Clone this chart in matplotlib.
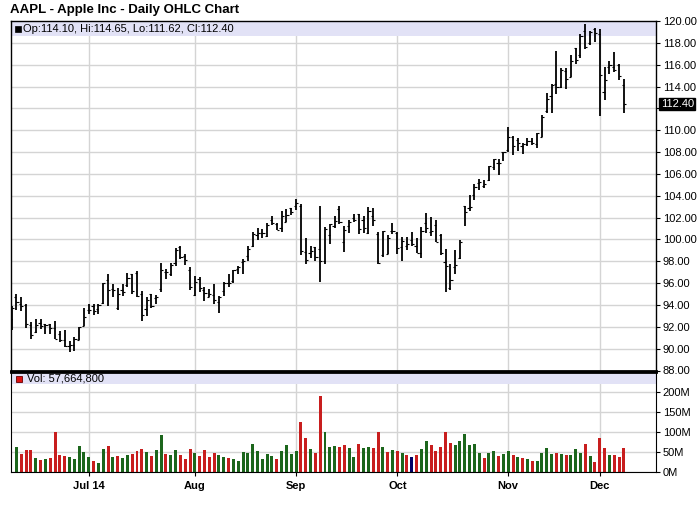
import numpy as np
import pandas as pd
import matplotlib
matplotlib.use('Agg')
from matplotlib import pyplot as plt
from matplotlib.patches import Rectangle
from matplotlib.transforms import blended_transform_factory

# trading days 2014-06-09 .. 2014-12-08
holidays = ['2014-07-04', '2014-09-01', '2014-11-27']
dates = [d for d in pd.bdate_range('2014-06-09', '2014-12-08') if d.strftime('%Y-%m-%d') not in holidays]

opens = [92.70, 94.73, 94.13, 94.04, 92.20, 91.51, 92.31, 92.27, 92.29, 91.85, 91.32, 90.75, 90.21, 90.37, 90.82, 92.10,
         93.52, 93.87, 93.67, 94.14, 96.27, 95.44, 93.76, 95.36, 95.86, 96.80, 96.97, 95.03, 93.62, 94.99, 94.68, 95.42,
         97.04, 96.85, 97.82, 99.33, 98.44, 97.16,
         94.90, 96.37, 95.36, 94.75, 94.93, 94.26, 95.27, 96.04, 96.15, 97.33, 97.90, 98.49, 99.41, 100.44, 100.57, 100.29,
         101.79, 101.42, 101.02, 101.59, 102.86,
         103.06, 103.10, 98.85, 98.80, 99.30, 99.08, 98.01, 100.41, 101.21, 102.81, 99.80, 101.27, 101.93, 102.29, 101.80,
         100.60, 102.16, 100.51, 98.53, 98.65, 100.81,
         100.59, 99.27, 99.44, 99.95, 99.43, 98.76, 101.54, 100.69, 101.33, 100.39, 97.97, 95.55, 97.50, 98.32, 103.02,
         102.84, 104.08, 105.18, 104.85, 105.40, 106.65, 106.96, 108.01,
         108.22, 109.36, 109.10, 108.60, 108.75, 109.02, 108.70, 109.38, 111.80, 113.15, 114.27, 113.94, 115.44, 114.91,
         117.51, 116.85, 119.07, 117.94, 119.27,
         118.81, 113.50, 115.75, 115.77, 115.99, 114.10]
highs = [93.88, 95.05, 94.76, 94.12, 92.44, 92.75, 92.70, 92.29, 92.30, 92.55, 91.62, 91.74, 90.70, 91.05, 92.00, 93.73,
         94.07, 94.06, 94.10, 95.99, 96.80, 95.95, 95.55, 95.89, 96.89, 96.85, 97.10, 95.28, 94.74, 95.00, 94.89, 97.88,
         97.32, 97.84, 99.24, 99.44, 98.70, 97.45,
         96.62, 96.58, 95.68, 95.48, 95.95, 94.82, 96.08, 96.88, 97.24, 97.57, 98.19, 99.37, 100.68, 101.09, 100.94, 101.47,
         102.17, 101.50, 102.57, 102.78, 102.90,
         103.74, 103.20, 100.09, 99.39, 99.31, 103.08, 101.11, 101.44, 102.19, 103.05, 101.26, 101.80, 102.35, 102.35,
         102.14, 102.94, 102.85, 100.71, 100.75, 100.44, 101.54,
         100.69, 100.22, 100.21, 100.65, 100.12, 101.11, 102.38, 102.03, 101.78, 100.52, 99.15, 97.72, 99.00, 99.96,
         103.02, 104.11, 105.05, 105.49, 105.48, 106.74, 107.37, 107.35, 108.04,
         110.30, 109.49, 109.30, 108.79, 109.32, 109.33, 109.75, 111.43, 113.45, 114.19, 117.28, 115.69, 115.74, 116.86,
         117.57, 118.77, 119.75, 119.10, 119.40,
         119.25, 115.75, 116.35, 117.20, 116.08, 114.65]
lows = [91.75, 93.57, 93.47, 91.90, 90.88, 91.45, 91.80, 91.35, 91.34, 90.90, 90.60, 90.19, 89.65, 89.80, 90.77, 92.09,
        93.13, 93.09, 93.20, 94.10, 93.92, 94.76, 93.52, 94.86, 95.65, 95.03, 94.74, 92.57, 93.02, 93.72, 94.12, 95.17,
        96.42, 96.64, 97.55, 98.25, 97.67, 95.33,
        94.81, 95.17, 94.36, 94.71, 94.10, 93.28, 94.84, 95.61, 96.04, 96.80, 96.86, 97.98, 99.32, 99.95, 100.11, 100.19,
        101.28, 100.86, 100.70, 101.56, 102.20,
        102.72, 98.58, 97.79, 98.31, 98.05, 96.14, 97.76, 99.62, 101.08, 101.44, 98.89, 100.59, 101.56, 100.50, 100.58,
        100.54, 101.20, 97.72, 98.40, 98.63, 100.53,
        98.70, 98.04, 99.04, 99.42, 98.73, 98.31, 100.61, 100.30, 99.81, 98.57, 95.18, 95.41, 96.81, 98.22, 101.27,
        102.60, 103.63, 104.53, 104.70, 105.35, 106.36, 105.90, 107.21,
        108.01, 107.72, 108.12, 107.80, 108.55, 108.67, 108.40, 109.37, 111.60, 111.56, 113.30, 113.89, 113.80, 114.85,
        116.03, 116.62, 117.45, 117.83, 118.05,
        111.27, 112.75, 115.11, 115.29, 114.64, 111.62]
closes = [93.70, 94.25, 93.86, 92.29, 91.28, 92.20, 92.08, 92.18, 91.86, 90.91, 90.83, 90.28, 90.36, 90.90, 91.98, 92.93,
          93.52, 93.48, 94.03, 95.97, 95.35, 95.39, 95.04, 95.22, 96.45, 95.32, 94.78, 93.09, 94.43, 93.94, 94.72, 97.19,
          97.03, 97.67, 99.02, 98.38, 98.15, 95.60,
          96.13, 95.59, 95.12, 94.96, 94.48, 94.74, 95.99, 95.97, 97.24, 97.50, 97.98, 99.16, 100.53, 100.57, 100.58,
          101.32, 101.54, 100.89, 102.13, 102.25, 102.50,
          103.30, 98.94, 98.12, 98.97, 98.36, 97.99, 101.00, 101.43, 101.66, 101.63, 100.86, 101.58, 101.79, 100.96,
          101.06, 102.64, 101.75, 97.87, 100.75, 100.11, 100.75,
          99.18, 99.90, 99.62, 99.62, 98.75, 100.80, 101.02, 100.73, 99.81, 98.75, 97.54, 96.26, 97.67, 99.76, 102.47,
          102.99, 104.83, 105.22, 105.11, 106.74, 107.34, 106.98, 108.00,
          109.40, 108.60, 108.86, 108.70, 109.01, 108.83, 109.70, 111.25, 112.82, 114.18, 113.99, 115.47, 114.67, 116.31,
          116.47, 118.62, 117.60, 119.00, 118.93,
          115.07, 114.63, 115.93, 115.49, 115.00, 112.40]
# volume in millions, none shown for the first day
volumes = [np.nan, 62, 45, 54, 54, 34, 29, 32, 34, 100, 42, 39, 37, 32, 64, 49,
           37, 27, 22, 57, 64, 37, 39, 34, 42, 44, 52, 57, 49, 39, 54, 92, 44, 42, 54, 42, 32, 57,
           47, 39, 54, 37, 47, 42, 37, 34, 32, 27, 49, 47, 69, 52, 32, 44, 39, 32, 52, 67, 44,
           52, 124, 84, 57, 47, 189, 99, 62, 64, 62, 67, 59, 37, 69, 59, 62, 59, 99, 62, 49, 54,
           52, 47, 42, 37, 42, 57, 77, 67, 52, 62, 99, 72, 67, 77, 94, 67, 69, 47, 34, 47, 52, 39, 44,
           52, 42, 37, 34, 32, 27, 27, 47, 59, 44, 47, 44, 42, 42, 57, 47, 69, 39, 24,
           84, 59, 42, 42, 37, 57.66]
month_labels = ['Jul 14', 'Aug', 'Sep', 'Oct', 'Nov', 'Dec']

W, H = 700, 512
def rect(l, t, r, b):
	return [l / W, 1 - b / H, (r - l) / W, (b - t) / H]

plt.rcParams['font.family'] = ['Liberation Sans', 'DejaVu Sans']
fig = plt.figure(figsize=(7, 5.12), dpi=100)
ax = fig.add_axes(rect(10.7, 21, 655.7, 370.5))
axv = fig.add_axes(rect(10.7, 371.5, 655.7, 471.5), sharex=ax)

x = np.arange(len(dates))
month_pos = [i for i in range(1, len(dates)) if dates[i].month != dates[i - 1].month]
grid_c = '#d4d4d4'
band_c = '#e2e2f6'

# price panel
ax.vlines(x, lows, highs, color='black', lw=1.3)
ax.hlines(opens, x - 0.45, x, color='black', lw=0.8)
ax.hlines(closes, x, x + 0.45, color='black', lw=0.8)
ax.axhspan(118.6, 120, color=band_c, lw=0, zorder=1)
ax.set_xlim(-0.2, 133.6)
ax.set_ylim(88, 120)
yt = np.arange(88, 121, 2)
ax.set_yticks(yt)
ax.set_yticklabels(['' if v == 112 else '%.2f' % v for v in yt])
ax.yaxis.tick_right()
ax.tick_params(axis='y', direction='out', length=3, pad=2, labelsize=8, width=0.8)
ax.set_xticks(month_pos)
ax.tick_params(axis='x', length=0, labelbottom=False)
ax.grid(True, color=grid_c, lw=1)
ax.set_axisbelow(True)
for s in ax.spines.values():
	s.set_linewidth(1)
ax.spines['bottom'].set_linewidth(2)
tr = blended_transform_factory(ax.transAxes, ax.transData)
ax.text(1.0 + 5 / 645, closes[-1], '%.2f' % closes[-1], transform=tr, color='white', fontsize=8,
	va='center', ha='left', bbox=dict(facecolor='black', edgecolor='black', pad=1))

# volume panel
colors = ['#1c661c']
for i in range(1, len(closes)):
	if closes[i] > closes[i - 1]:
		colors.append('#1c661c')
	elif closes[i] < closes[i - 1]:
		colors.append('#c81e1e')
	else:
		colors.append('#000066')
axv.bar(x, volumes, width=0.62, color=colors, zorder=2)
axv.axhspan(218, 250, color=band_c, lw=0, zorder=1)
axv.set_ylim(0, 250)
axv.set_yticks([0, 50, 100, 150, 200])
axv.set_yticklabels(['0M', '50M', '100M', '150M', '200M'])
axv.yaxis.tick_right()
axv.tick_params(axis='y', direction='out', length=3, pad=2, labelsize=8, width=0.8)
axv.set_xticks(month_pos)
axv.set_xticklabels(month_labels, fontweight='bold', fontsize=8)
axv.tick_params(axis='x', direction='out', length=3, pad=4, width=0.8)
axv.grid(True, color=grid_c, lw=1)
axv.set_axisbelow(True)
axv.spines['top'].set_linewidth(2)

# headers
fig.text(10 / W, 1 - 9.5 / H, 'AAPL - Apple Inc - Daily OHLC Chart', fontsize=9.5, fontweight='bold', va='center')
fig.patches.append(Rectangle((15 / W, 1 - 31.5 / H), 6 / W, 6 / H, transform=fig.transFigure,
	facecolor='black', edgecolor='black', lw=0.5, figure=fig))
fig.text(23 / W, 1 - 28.5 / H, 'Op:%.2f, Hi:%.2f, Lo:%.2f, Cl:%.2f' % (opens[-1], highs[-1], lows[-1], closes[-1]),
	fontsize=8, va='center')
fig.patches.append(Rectangle((16 / W, 1 - 381.5 / H), 6 / W, 6 / H, transform=fig.transFigure,
	facecolor='#dd1111', edgecolor='#660000', lw=0.6, figure=fig))
fig.text(27 / W, 1 - 378.5 / H, 'Vol: {:,}'.format(57664800), fontsize=8, va='center')

fig.savefig('out.png', dpi=100)
